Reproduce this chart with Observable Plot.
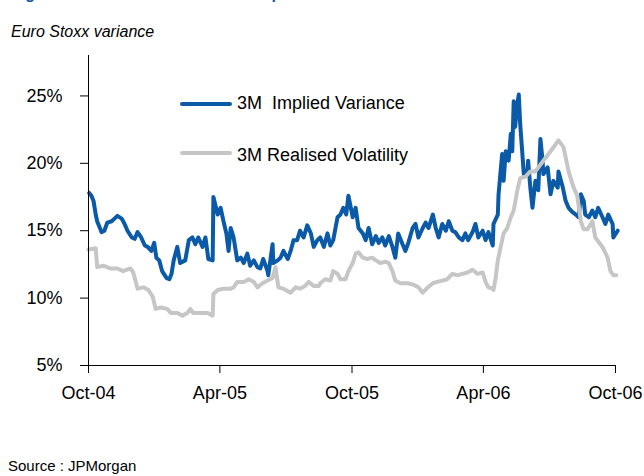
<!DOCTYPE html>
<html>
<head>
<meta charset="utf-8">
<script src="https://cdn.jsdelivr.net/npm/d3@7"></script>
<script src="https://cdn.jsdelivr.net/npm/@observablehq/plot@0.6"></script>
<style>
  body { margin: 0; background: #fff; }
  #wrap { position: relative; width: 644px; height: 476px; overflow: hidden; font-family: "Liberation Sans", Arial, sans-serif; color: #000; }
  .abs { position: absolute; white-space: pre; }
  .legtxt { font-size: 18px; line-height: 20px; }
  .sw { position: absolute; height: 4px; border-radius: 2px; }
</style>
</head>
<body>
<div id="wrap">
  <div class="abs" style="left:11px; top:-15px; font-weight:bold; font-size:16px; line-height:18px; color:#0b5aa7;">Figure 1: Euro Stoxx variance swap levels</div>
  <div class="abs" style="left:11px; top:23px; font-style:italic; font-size:16px; line-height:18px;">Euro Stoxx variance</div>
  <div id="chart" class="abs" style="left:0; top:0;"></div>
  <div class="sw" style="left:180px; top:102px; width:52px; background:#0b5aa7;"></div>
  <div class="abs legtxt" style="left:237px; top:93px;">3M  Implied Variance</div>
  <div class="sw" style="left:180px; top:151px; width:52px; background:#c6c6c6;"></div>
  <div class="abs legtxt" style="left:237px; top:145px;">3M Realised Volatility</div>
  <div class="abs" style="left:8px; top:457px; font-size:15px; line-height:18px;">Source : JPMorgan</div>
</div>
<script>
// Day offsets are days since 1 Oct 2004
const impliedDays = [1,4,7,10,12,18,22,26,32,36,40,46,50,54,60,64,68,73,78,82,87,91,94,98,102,108,112,115,118,123,127,134,139,144,148,152,158,162,166,172,173,179,183,187,191,194,197,201,206,211,215,220,224,229,234,238,242,248,249,255,256,262,266,270,276,280,284,289,293,298,303,308,312,317,321,326,331,335,339,345,349,353,357,360,366,370,374,380,384,388,393,398,402,407,411,416,421,425,429,435,439,443,449,453,457,463,467,471,477,481,485,490,495,499,504,508,513,518,522,526,532,536,540,546,550,554,560,561,567,568,573,575,578,582,585,587,589,591,594,596,598,601,603,608,609,612,615,619,623,626,629,630,636,640,644,650,651,657,661,665,670,675,679,682,686,688,693,698,702,706,712,716,720,726,727,733];
const impliedVariance = [17.8,17.6,17.2,16.2,15.7,14.9,15.0,15.6,15.7,15.9,16.1,15.9,15.5,15.0,14.5,14.4,14.9,14.5,13.9,13.8,13.5,14.1,13.0,12.8,12.0,11.5,11.4,11.8,12.8,13.8,12.6,12.8,14.3,14.5,14.0,14.5,13.8,14.5,12.9,12.8,17.5,16.2,16.7,15.7,14.8,13.5,15.2,14.5,12.8,13.0,12.6,13.3,12.4,12.8,12.3,12.2,12.9,12.0,11.7,14.0,12.6,12.8,13.0,13.5,12.9,13.5,14.3,14.3,15.0,14.5,15.4,14.8,13.8,14.3,14.5,13.8,14.8,13.9,14.3,16.0,16.2,16.7,16.2,17.6,16.0,16.7,15.2,14.8,14.3,15.2,14.0,14.6,14.1,14.5,13.9,14.6,13.8,13.0,14.8,14.0,13.5,14.1,15.2,15.5,14.5,15.2,15.6,15.2,16.2,15.2,14.5,15.5,15.0,15.7,15.0,14.9,14.5,14.3,14.8,14.3,14.9,15.5,14.5,15.0,14.3,14.9,13.9,15.5,16.2,17.7,20.7,18.7,20.9,20.2,22.2,20.9,24.6,22.7,24.4,25.1,22.9,20.7,19.2,19.4,20.2,18.2,16.7,18.7,18.0,21.8,20.2,19.2,19.7,17.7,18.7,18.2,19.4,18.2,17.2,16.7,16.4,16.2,16.0,17.7,17.2,16.2,16.0,16.5,16.0,16.7,16.0,15.5,16.2,15.5,14.5,15.0];

const realisedDays = [0,10,12,21,30,40,48,58,62,68,76,83,89,93,100,109,114,123,130,137,141,145,155,165,172,173,179,187,197,201,206,215,222,229,234,241,248,255,259,263,270,280,287,293,300,305,312,319,321,328,335,339,345,349,356,360,366,370,374,380,386,393,398,404,411,416,421,425,432,442,450,457,463,470,477,483,490,497,504,511,518,525,532,539,546,550,554,560,561,564,567,571,575,580,585,589,594,598,605,612,619,626,633,640,647,651,658,665,672,677,682,686,691,698,702,709,713,719,723,727,731];
const realisedVolatility = [13.6,13.7,12.3,12.4,12.2,12.2,12.0,12.2,11.9,10.7,10.8,10.6,10.1,9.2,9.3,9.2,8.9,8.9,8.7,8.9,9.2,8.9,8.9,8.9,8.7,10.3,10.6,10.7,10.7,10.8,11.2,11.2,11.4,11.2,10.8,11.1,11.3,11.5,12.3,10.8,10.7,10.4,10.8,10.7,10.9,11.2,10.9,10.9,11.1,11.4,11.3,12.0,11.8,11.4,11.4,12.0,12.6,13.3,13.4,13.0,12.9,13.0,12.8,12.6,12.7,12.6,12.0,11.3,11.1,11.1,11.0,10.8,10.4,10.8,11.1,11.2,11.3,11.4,11.8,11.7,11.8,11.9,12.1,11.8,11.9,11.2,10.8,10.7,10.6,11.5,12.8,13.8,14.8,15.2,16.0,16.5,18.0,18.9,19.0,19.4,19.4,19.9,20.4,20.9,21.4,21.7,21.2,19.4,18.2,17.6,15.7,15.1,15.1,15.7,14.5,14.0,13.7,13.0,12.0,11.7,11.7];

const yTicks = [5, 10, 15, 20, 25];
const xTickLabels = ["Oct-04", "Apr-05", "Oct-05", "Apr-06", "Oct-06"];
const xTickDates = ["2004-10-01", "2005-04-01", "2005-10-01", "2006-04-01", "2006-10-01"];

const base = new Date(Date.UTC(2004, 9, 1));
const toDate = d => d3.utcDay.offset(base, d);
const implied = impliedDays.map((d, i) => ({date: toDate(d), value: impliedVariance[i]}));
const realised = realisedDays.map((d, i) => ({date: toDate(d), value: realisedVolatility[i]}));
const tickDates = xTickDates.map(s => new Date(s + "T00:00:00Z"));

const font = "'Liberation Sans', Arial, sans-serif";

const chart = Plot.plot({
  width: 644,
  height: 476,
  marginLeft: 88,
  marginRight: 29,
  marginTop: 55,
  marginBottom: 111,
  x: {type: "utc", domain: [tickDates[0], tickDates[tickDates.length - 1]]},
  y: {domain: [5, 28]},
  style: {fontFamily: font, color: "#000", background: "transparent", overflow: "visible"},
  marks: [
    Plot.line(implied, {x: "date", y: "value", stroke: "#0b5aa7", strokeWidth: 4}),
    Plot.line(realised, {x: "date", y: "value", stroke: "#c6c6c6", strokeWidth: 4}),
    Plot.ruleX([tickDates[0]], {stroke: "#000", strokeWidth: 1}),
    Plot.ruleY([5], {stroke: "#000", strokeWidth: 1}),
    Plot.axisY({ticks: yTicks, tickSize: 8, tickPadding: 18, tickFormat: d => d + "%", fontSize: 18, label: null}),
    Plot.axisX({ticks: tickDates, tickSize: 8, tickPadding: 13, tickFormat: (d, i) => xTickLabels[tickDates.findIndex(t => +t === +d)], fontSize: 18, label: null})
  ]
});
document.getElementById("chart").appendChild(chart);
</script>
</body>
</html>
